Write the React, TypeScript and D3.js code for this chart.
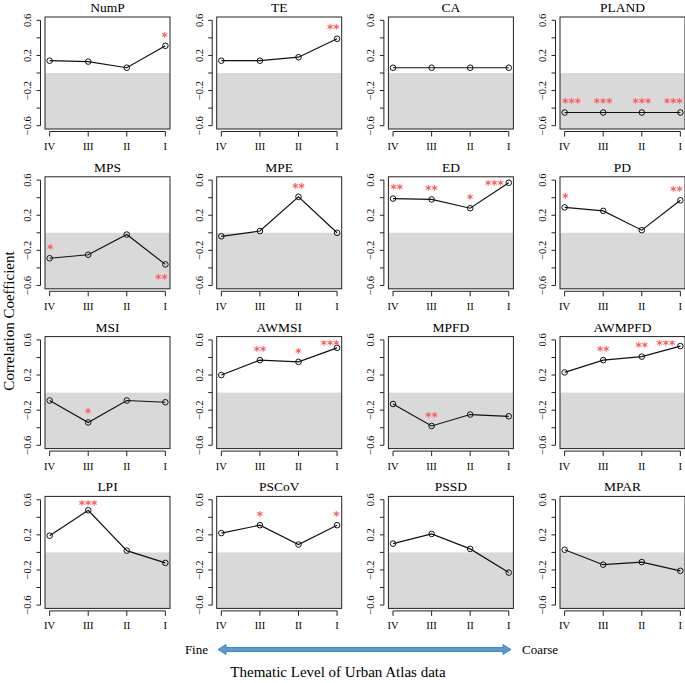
import React from "react";
import * as d3 from "d3";

const levels = ["IV", "III", "II", "I"];
const metrics = [
  "NumP", "TE", "CA", "PLAND",
  "MPS", "MPE", "ED", "PD",
  "MSI", "AWMSI", "MPFD", "AWMPFD",
  "LPI", "PSCoV", "PSSD", "MPAR",
];
const values = [
  [0.14, 0.13, 0.06, 0.31],
  [0.14, 0.14, 0.18, 0.39],
  [0.06, 0.06, 0.06, 0.06],
  [-0.45, -0.45, -0.45, -0.45],
  [-0.29, -0.25, -0.02, -0.36],
  [-0.04, 0.02, 0.41, 0.0],
  [0.39, 0.38, 0.28, 0.57],
  [0.29, 0.25, 0.03, 0.37],
  [-0.09, -0.34, -0.09, -0.11],
  [0.2, 0.37, 0.35, 0.51],
  [-0.13, -0.38, -0.25, -0.27],
  [0.23, 0.37, 0.41, 0.53],
  [0.19, 0.48, 0.02, -0.12],
  [0.22, 0.31, 0.09, 0.31],
  [0.1, 0.21, 0.04, -0.23],
  [0.03, -0.14, -0.11, -0.21],
];
const stars = [
  ["", "", "", "*"],
  ["", "", "", "**"],
  ["", "", "", ""],
  ["***", "***", "***", "***"],
  ["*", "", "", "**"],
  ["", "", "**", ""],
  ["**", "**", "*", "***"],
  ["*", "", "", "**"],
  ["", "*", "", ""],
  ["", "**", "*", "***"],
  ["", "**", "", ""],
  ["", "**", "**", "***"],
  ["", "***", "", ""],
  ["", "*", "", "*"],
  ["", "", "", ""],
  ["", "", "", ""],
];
// +1 star above the point, -1 below
const starSide = [
  [1, 1, 1, 1], [1, 1, 1, 1], [1, 1, 1, 1], [1, 1, 1, 1],
  [1, 1, 1, -1], [1, 1, 1, 1], [1, 1, 1, 1], [1, 1, 1, 1],
  [1, 1, 1, 1], [1, 1, 1, 1], [1, 1, 1, 1], [1, 1, 1, 1],
  [1, 1, 1, 1], [1, 1, 1, 1], [1, 1, 1, 1], [1, 1, 1, 1],
];
const yTicks = [-0.6, -0.4, -0.2, 0, 0.2, 0.4, 0.6];
const yTickLabels = [-0.6, -0.2, 0.2, 0.6];

const colLeft = [45, 216.7, 388.4, 560];
const rowTop = [17, 176.8, 336.6, 496.4];
const W = 125;
const H = 112;
const FONT = "'Liberation Serif', 'Times New Roman', serif";

function fmt(v: number) {
  const s = Math.abs(v).toFixed(1);
  return v < 0 ? "\u2212" + s : s;
}

function Panel({ idx }: { idx: number }) {
  const L = colLeft[idx % 4];
  const T = rowTop[Math.floor(idx / 4)];
  const x = d3.scaleLinear().domain([0.88, 4.12]).range([L, L + W]);
  const y = d3.scaleLinear().domain([-0.638, 0.638]).range([T + H, T]);
  const vals = values[idx];
  const pts = vals.map((v, i) => [x(i + 1), y(v)] as [number, number]);
  const line = d3.line()(pts) || "";
  const axX = L - 4.5;
  const axY = T + H + 2.5;
  return (
    <g>
      <text x={L + W / 2} y={T - 5} textAnchor="middle" fontSize={13.5} fontWeight="normal" fontFamily={FONT}>
        {metrics[idx]}
      </text>
      <rect x={L} y={y(0)} width={W} height={T + H - y(0)} fill="#d9d9d9" />
      <rect x={L} y={T} width={W} height={H} fill="none" stroke="#222" strokeWidth={1} />
      {/* y axis */}
      <line x1={axX} x2={axX} y1={y(0.6)} y2={y(-0.6)} stroke="#222" />
      {yTicks.map((t) => (
        <line key={t} x1={axX} x2={axX - 4} y1={y(t)} y2={y(t)} stroke="#222" />
      ))}
      {yTickLabels.map((t) => (
        <text
          key={t}
          transform={`translate(${L - 14},${y(t)}) rotate(-90)`}
          textAnchor="middle"
          fontSize={10.5}
          fontFamily={FONT}
        >
          {fmt(t)}
        </text>
      ))}
      {/* x axis */}
      <line x1={x(1)} x2={x(4)} y1={axY} y2={axY} stroke="#222" />
      {levels.map((lv, i) => (
        <g key={lv}>
          <line x1={x(i + 1)} x2={x(i + 1)} y1={axY} y2={axY + 5} stroke="#222" />
          <text x={x(i + 1)} y={T + H + 21} textAnchor="middle" fontSize={10.5} fontFamily={FONT}>
            {lv}
          </text>
        </g>
      ))}
      <path d={line} fill="none" stroke="#111" strokeWidth={1.2} />
      {pts.map((p, i) => (
        <circle key={i} cx={p[0]} cy={p[1]} r={2.8} fill="none" stroke="#111" strokeWidth={1} />
      ))}
      {stars[idx].map((s, i) => {
        if (!s) return null;
        const side = starSide[idx][i];
        const v = vals[i];
        const sv = side > 0 ? Math.min(v + 0.14, 0.575) : v - 0.135;
        const cy = y(sv);
        const close = Math.abs(cy - pts[i][1]) < 5;
        const anchor = i === 0 ? "start" : i === 3 ? "end" : "middle";
        const sx =
          i === 0 ? pts[i][0] - 2.5 : i === 3 ? pts[i][0] + (close ? -5 : 2.5) : pts[i][0];
        return (
          <text
            key={"s" + i}
            x={sx}
            y={cy + 7}
            textAnchor={anchor}
            fontSize={12}
            fontWeight="bold"
            fontFamily="'DejaVu Sans', sans-serif"
            fill="#ff5a5f"
          >
            {s}
          </text>
        );
      })}
    </g>
  );
}

export default function App() {
  const ay = 649.5;
  const ax1 = 218;
  const ax2 = 511;
  const arrow = `M${ax1},${ay} L${ax1 + 8},${ay - 5} L${ax1 + 8},${ay - 2} L${ax2 - 8},${ay - 2} L${ax2 - 8},${ay - 5} L${ax2},${ay} L${ax2 - 8},${ay + 5} L${ax2 - 8},${ay + 2} L${ax1 + 8},${ay + 2} L${ax1 + 8},${ay + 5} Z`;
  return (
    <svg
      width={685}
      height={683}
      style={{ position: "absolute", left: 0, top: 0, background: "#fff" }}
    >
      <rect x={0} y={0} width={685} height={683} fill="#fff" />
      {metrics.map((m, i) => (
        <Panel key={m} idx={i} />
      ))}
      <text
        transform="translate(14,321) rotate(-90)"
        textAnchor="middle"
        fontSize={15}
        fontFamily={FONT}
      >
        Correlation Coefficient
      </text>
      <text x={208} y={654} textAnchor="end" fontSize={13} fontFamily={FONT}>
        Fine
      </text>
      <path d={arrow} fill="#5b9bd5" stroke="#2e75b6" strokeWidth={0.8} />
      <text x={522} y={654} textAnchor="start" fontSize={13} fontFamily={FONT}>
        Coarse
      </text>
      <text x={338} y={677} textAnchor="middle" fontSize={15} fontFamily={FONT}>
        Thematic Level of Urban Atlas data
      </text>
    </svg>
  );
}
